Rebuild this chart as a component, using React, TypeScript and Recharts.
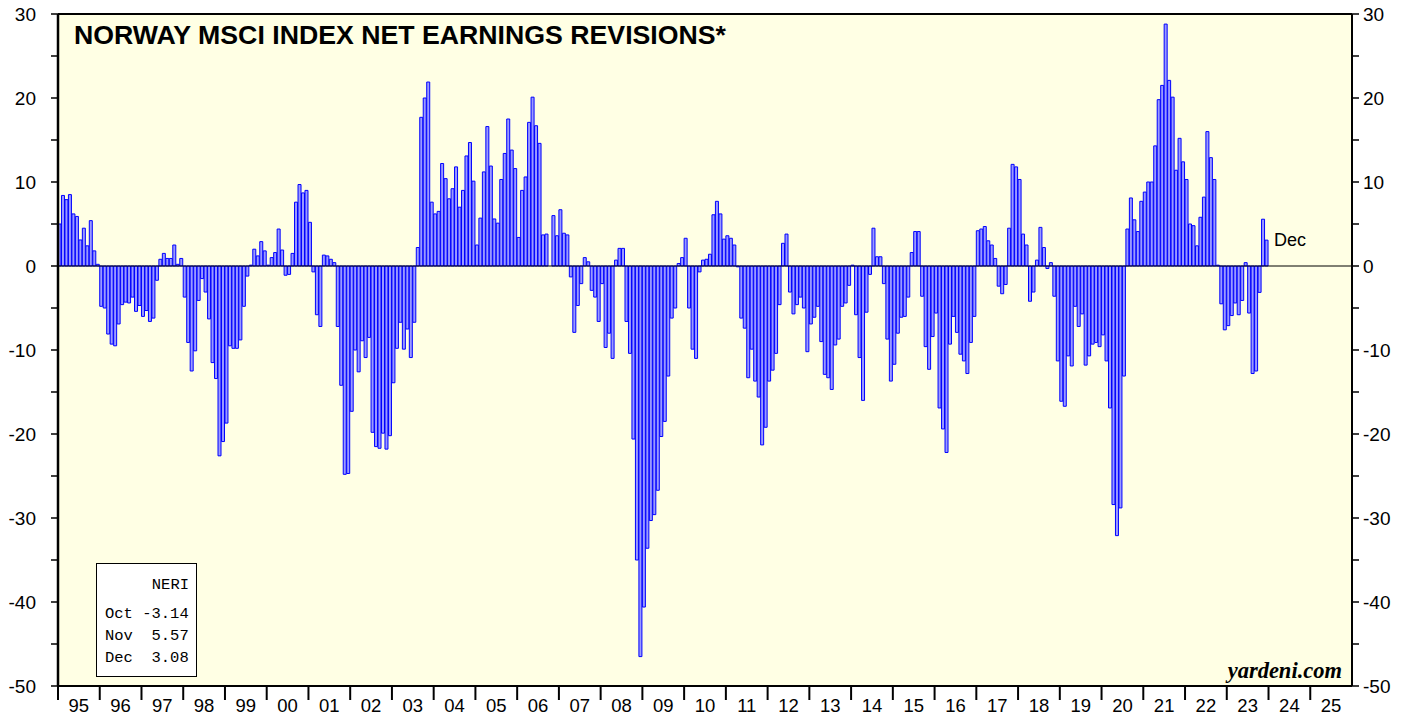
import { BarChart, Bar, XAxis, YAxis, CartesianGrid, ReferenceLine, LabelList } from "recharts";

// ─── Data ───────────────────────────────────────────────────────────────────
// Norway MSCI net earnings revisions, monthly, %

const years = [
  1995, 1996, 1997, 1998, 1999, 2000, 2001, 2002, 2003, 2004, 2005, 2006, 2007,
  2008, 2009, 2010, 2011, 2012, 2013, 2014, 2015, 2016, 2017, 2018, 2019, 2020,
  2021, 2022, 2023, 2024, 2025,
];

const y1995 = [5.0, 8.4, 7.9, 8.5, 6.2, 5.9, 3.1, 4.5, 2.4, 5.4, 1.8, 0.2];
const y1996 = [-4.8, -5.0, -8.1, -9.3, -9.5, -6.9, -4.6, -4.3, -4.4, -3.7, -5.4, -4.7];
const y1997 = [-6.0, -5.3, -6.6, -6.2, -1.7, 0.8, 1.5, 0.9, 0.9, 2.5, 0.2, 0.9];
const y1998 = [-3.7, -9.1, -12.5, -10.1, -4.1, -1.5, -3.1, -6.3, -11.5, -13.4, -22.6, -20.9];
const y1999 = [-18.7, -9.5, -9.8, -9.8, -8.8, -4.8, -1.2, 0.1, 2.0, 1.2, 2.9, 1.8];
const y2000 = [0.1, 1.0, 1.6, 4.4, 1.9, -1.1, -1.0, 1.5, 7.6, 9.7, 8.7, 9.0];
const y2001 = [5.2, -0.7, -5.8, -7.2, 1.3, 1.2, 0.8, 0.4, -7.2, -14.2, -24.8, -24.7];
const y2002 = [-17.3, -10.0, -12.6, -8.9, -10.9, -8.5, -19.8, -21.5, -21.7, -19.9, -21.8, -20.2];
const y2003 = [-13.9, -9.8, -6.7, -9.9, -7.5, -10.9, -6.7, 2.2, 17.7, 20.0, 21.9, 7.6];
const y2004 = [6.2, 6.5, 12.2, 10.4, 8.0, 9.2, 11.8, 7.0, 9.0, 13.1, 14.7, 10.1];
const y2005 = [2.5, 5.7, 11.2, 16.6, 11.9, 5.6, 5.1, 10.3, 13.4, 17.5, 13.8, 11.6];
const y2006 = [3.4, 9.0, 10.6, 17.1, 20.1, 16.7, 14.6, 3.7, 3.8, 0.0, 6.0, 3.6];
const y2007 = [6.7, 3.9, 3.7, -1.3, -7.9, -4.7, -2.1, 1.0, 0.5, -2.9, -3.7, -6.6];
const y2008 = [-2.1, -9.7, -8.0, -11.0, 0.7, 2.1, 2.1, -6.6, -10.4, -20.6, -35.0, -46.5];
const y2009 = [-40.6, -33.6, -30.3, -29.6, -26.7, -20.3, -18.5, -13.1, -6.2, -5.0, 0.3, 1.0];
const y2010 = [3.3, -5.0, -9.9, -11.0, -0.7, 0.7, 0.8, 1.4, 6.1, 7.7, 6.2, 3.2];
const y2011 = [3.6, 3.3, 2.5, -0.1, -6.2, -7.4, -13.3, -9.9, -13.7, -15.6, -21.3, -19.2];
const y2012 = [-13.7, -12.4, -10.4, -4.6, 2.7, 3.8, -3.1, -5.7, -4.6, -3.7, -5.0, -10.2];
const y2013 = [-6.9, -6.1, -4.8, -9.0, -12.9, -13.3, -14.7, -9.4, -8.7, -4.8, -4.4, -2.3];
const y2014 = [0.1, -5.8, -10.9, -16.0, -5.5, -1.0, 4.5, 1.1, 1.1, -2.1, -8.7, -13.7];
const y2015 = [-11.7, -8.0, -6.1, -6.0, -3.7, 1.6, 4.1, 4.1, -3.6, -9.6, -12.3, -8.4];
const y2016 = [-5.6, -16.9, -19.4, -22.2, -9.3, -6.0, -7.9, -10.5, -11.3, -12.8, -9.1, -6.0];
const y2017 = [4.2, 4.4, 4.7, 3.0, 2.5, 0.9, -2.4, -3.3, -2.2, 4.5, 12.1, 11.8];
const y2018 = [10.3, 3.8, 2.5, -4.2, -3.1, 0.7, 4.6, 2.2, -0.3, 0.4, -3.6, -11.3];
const y2019 = [-16.1, -16.7, -10.7, -11.9, -4.8, -7.2, -5.7, -11.8, -10.7, -9.3, -9.1, -9.6];
const y2020 = [-8.2, -11.3, -16.9, -28.4, -32.1, -28.8, -13.1, 4.4, 8.1, 5.5, 4.1, 7.7];
const y2021 = [8.8, 10.0, 10.0, 14.3, 19.8, 21.5, 28.8, 22.1, 20.1, 11.4, 15.2, 12.4];
const y2022 = [10.3, 5.0, 4.8, 2.4, 5.8, 8.2, 16.0, 12.9, 10.3, 0.1, -4.5, -7.6];
const y2023 = [-7.1, -5.9, -4.4, -5.8, -4.1, 0.4, -5.6, -12.8, -12.5, -3.14, 5.57, 3.08];

const neri = [
  y1995, y1996, y1997, y1998, y1999, y2000, y2001, y2002, y2003, y2004,
  y2005, y2006, y2007, y2008, y2009, y2010, y2011, y2012, y2013, y2014,
  y2015, y2016, y2017, y2018, y2019, y2020, y2021, y2022, y2023,
];

const months = ["Jan", "Feb", "Mar", "Apr", "May", "Jun", "Jul", "Aug", "Sep", "Oct", "Nov", "Dec"];

const legendMonths = ["Oct", "Nov", "Dec"];
const legendValues = [-3.14, 5.57, 3.08];

const yTicks = [-50, -45, -40, -35, -30, -25, -20, -15, -10, -5, 0, 5, 10, 15, 20, 25, 30];

// Jan = year boundary tick, Jul = mid-year label
const xTicks = years.flatMap((y) => [`Jan ${y}`, `Jul ${y}`]);

const lastIndex = neri.length * 12 - 1;

const data = years.flatMap((yr, i) =>
  months.map((m, j) => ({
    month: `${m} ${yr}`,
    value: neri[i] ? neri[i][j] : null,
    tag: i * 12 + j === lastIndex ? m : null,
  }))
);

const SANS = "'Liberation Sans', Arial, sans-serif";

// ─── Ticks / labels ─────────────────────────────────────────────────────────

function YearTick({ x, y, payload }: any) {
  const v = String(payload.value);
  const half = typeof payload.offset === "number" && payload.offset > 0 ? payload.offset : 1.74;
  const edge = x - half;
  if (v.startsWith("Jan")) {
    return <line x1={edge} x2={edge} y1={y} y2={y + 14} stroke="#000" strokeWidth={2} />;
  }
  const label = v.slice(-2);
  return (
    <text x={edge} y={y + 25.5} textAnchor="middle" fontSize={18.5} fontFamily={SANS} fill="#000">
      {label}
    </text>
  );
}

const yFormat = (v: number) => (v % 10 === 0 ? String(v) : "");

function DecLabel(props: any) {
  const { x, y, width, value } = props;
  if (!value) return null;
  return (
    <text x={x + width + 6} y={y + 1} dominantBaseline="middle" fontSize={18} fontFamily={SANS} fill="#000">
      {value}
    </text>
  );
}

// ─── Chart ──────────────────────────────────────────────────────────────────

export default function App() {
  return (
    <div style={{ position: "absolute", left: 0, top: 0, width: 1419, height: 715, background: "#fff" }}>
      <BarChart
        width={1419}
        height={715}
        data={data}
        margin={{ top: 14, right: 0, bottom: 0, left: 0 }}
        barCategoryGap={0}
        barGap={0}
      >
        <CartesianGrid xAxisId="m" yAxisId="left" fill="#ffffe4" horizontal={false} vertical={false} />
        <XAxis
          xAxisId="m"
          dataKey="month"
          ticks={xTicks}
          interval={0}
          height={29}
          tickSize={0}
          tickMargin={0}
          tick={<YearTick />}
          axisLine={{ stroke: "#000", strokeWidth: 2 }}
        />
        <YAxis
          yAxisId="left"
          domain={[-50, 30]}
          ticks={yTicks}
          allowDataOverflow
          interval={0}
          width={58}
          tickSize={7}
          tickMargin={15}
          tickFormatter={yFormat}
          tick={{ fill: "#000", fontSize: 19, fontFamily: SANS }}
          tickLine={{ stroke: "#000", strokeWidth: 1.5 }}
          axisLine={{ stroke: "#000", strokeWidth: 2.5 }}
        />
        <YAxis
          yAxisId="right"
          orientation="right"
          domain={[-50, 30]}
          ticks={yTicks}
          allowDataOverflow
          interval={0}
          width={67}
          tickSize={7}
          tickMargin={4}
          tickFormatter={yFormat}
          tick={{ fill: "#000", fontSize: 19, fontFamily: SANS, textAnchor: "start" }}
          tickLine={{ stroke: "#000", strokeWidth: 1.5 }}
          axisLine={{ stroke: "#000", strokeWidth: 2 }}
        />
        <Bar
          xAxisId="m"
          yAxisId="left"
          dataKey="value"
          fill="#9a9aff"
          stroke="#0000ff"
          strokeWidth={1}
          isAnimationActive={false}
        >
          <LabelList dataKey="tag" content={<DecLabel />} />
        </Bar>
        <ReferenceLine xAxisId="m" yAxisId="left" y={0} stroke="#000" strokeWidth={1} />
        <ReferenceLine xAxisId="m" yAxisId="left" y={30} stroke="#000" strokeWidth={2} />
      </BarChart>

      <svg
        width={1419}
        height={715}
        style={{ position: "absolute", left: 0, top: 0, pointerEvents: "none" }}
      >
        <text x={74} y={44} fontSize={26.7} fontWeight="bold" fontFamily={SANS} fill="#000">
          NORWAY MSCI INDEX NET EARNINGS REVISIONS*
        </text>
        <text
          x={1342}
          y={678}
          textAnchor="end"
          fontSize={22.5}
          fontWeight="bold"
          fontStyle="italic"
          fontFamily="'Liberation Serif', 'Times New Roman', serif"
          fill="#000"
        >
          yardeni.com
        </text>
        <rect x={96.5} y={563.5} width={100} height={113} fill="#fff" stroke="#000" strokeWidth={1} />
        <text x={189} y={589} textAnchor="end" fontSize={15.5} fontFamily="'Liberation Mono', monospace" fill="#000">
          NERI
        </text>
        {legendMonths.map((m, i) => (
          <text
            key={m}
            x={105}
            y={618 + i * 22}
            fontSize={15.5}
            fontFamily="'Liberation Mono', monospace"
            fill="#000"
            style={{ whiteSpace: "pre" }}
          >
            {`${m} ${legendValues[i].toFixed(2).padStart(5, " ")}`}
          </text>
        ))}
      </svg>
    </div>
  );
}
